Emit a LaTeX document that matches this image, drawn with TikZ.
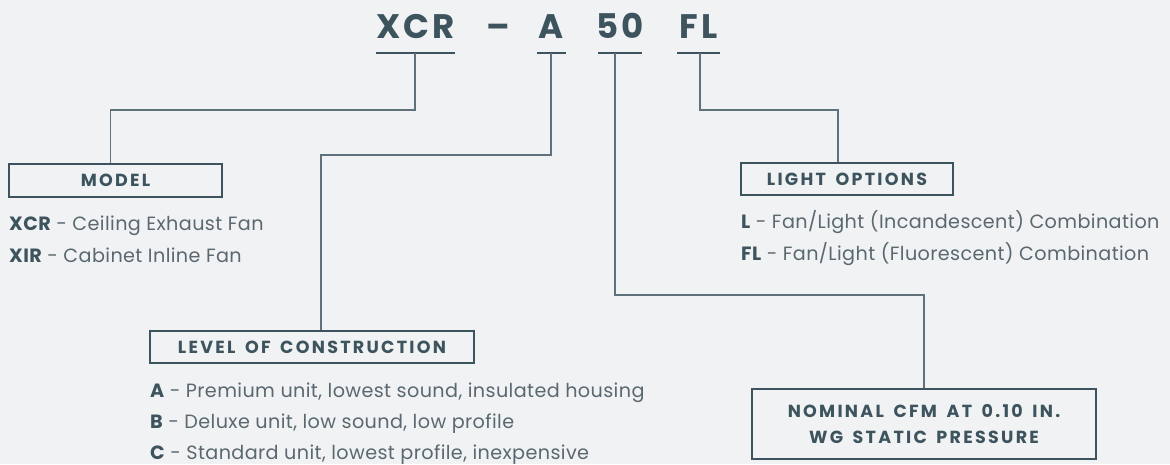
\documentclass[tikz,border=0pt]{standalone}
\usepackage{fontspec}
\setmainfont{Poppins}
\newfontfamily\spacedfont[LetterSpace=13,WordSpace=1.6]{Poppins}
\newfontfamily\titlefont[LetterSpace=8]{Poppins}
\newfontfamily\bodyfont[LetterSpace=2]{Poppins}
\definecolor{bg}{HTML}{F1F2F4}
\definecolor{ink}{HTML}{3D545E}
\definecolor{soft}{HTML}{5A6870}
\definecolor{wire}{HTML}{5F727B}
\tikzset{
  titletxt/.style={anchor=base,text=ink,font=\titlefont\bfseries\fontsize{34}{40}\selectfont,inner sep=0pt},
  labelbox/.style={draw=ink,line width=1.3pt,text=ink,align=center,inner sep=0pt,font=\spacedfont\bfseries\fontsize{17.5}{26}\selectfont},
  bodytxt/.style={anchor=base west,text=soft,inner sep=0pt,font=\bodyfont\fontsize{19.2}{22}\selectfont},
  uline/.style={draw=ink,line width=2.8pt},
  wire/.style={draw=wire,line width=1.1pt}
}
\newcommand{\kw}[1]{\textcolor{ink}{\bfseries #1}}
\begin{document}
\begin{tikzpicture}[x=1pt,y=-1pt]
\useasboundingbox[fill=bg] (0,0) rectangle (1170,464);
% title
\node[titletxt] (t1) at (415.5,38) {XCR};
\node[titletxt] (t2) at (498,38) {–};
\node[titletxt] (t3) at (551.5,38) {A};
\node[titletxt] (t4) at (620,38) {50};
\node[titletxt] (t5) at (698.5,38) {FL};
% underlines
\coordinate (u1) at (415,53);
\coordinate (u3) at (551,53);
\coordinate (u4) at (615,53);
\coordinate (u5) at (700,53);
\draw[uline] (376,53) -- (455,53);
\draw[uline] (537,53) -- (566,53);
\draw[uline] (598,53) -- (642,53);
\draw[uline] (677,53) -- (720,53);
% boxes
\node[labelbox,minimum width=213pt,minimum height=33pt] (model) at (115.5,180.5) {MODEL};
\node[labelbox,minimum width=212pt,minimum height=32pt] (light) at (847,179) {LIGHT OPTIONS};
\node[labelbox,minimum width=324pt,minimum height=32pt] (level) at (312,347) {LEVEL OF CONSTRUCTION};
\node[labelbox,minimum width=344pt,minimum height=70pt] (nom) at (924,424) {NOMINAL CFM AT 0.10 IN.\\WG STATIC PRESSURE};
% connectors
\draw[wire] (u1) -- ++(0,57) -| ([xshift=-4.8pt]model.north);
\draw[wire] (u3) -- ++(0,102) -| ([xshift=9pt]level.north);
\draw[wire] (u4) -- ++(0,242) -| (nom.north);
\draw[wire] (u5) -- ++(0,57) -| ([xshift=-9pt]light.north);
% descriptions
\node[bodytxt] (m1) at (9,230) {\kw{XCR} - Ceiling Exhaust Fan};
\node[bodytxt] (m2) at (9,262) {\kw{XIR} - Cabinet Inline Fan};
\node[bodytxt] (l1) at (741,228) {\kw{L} - Fan/Light (Incandescent) Combination};
\node[bodytxt] (l2) at (741,260) {\kw{FL} - Fan/Light (Fluorescent) Combination};
\node[bodytxt] (c1) at (150,397) {\kw{A} - Premium unit, lowest sound, insulated housing};
\node[bodytxt] (c2) at (150,428) {\kw{B} - Deluxe unit, low sound, low profile};
\node[bodytxt] (c3) at (150,459) {\kw{C} - Standard unit, lowest profile, inexpensive};
\end{tikzpicture}
\end{document}
